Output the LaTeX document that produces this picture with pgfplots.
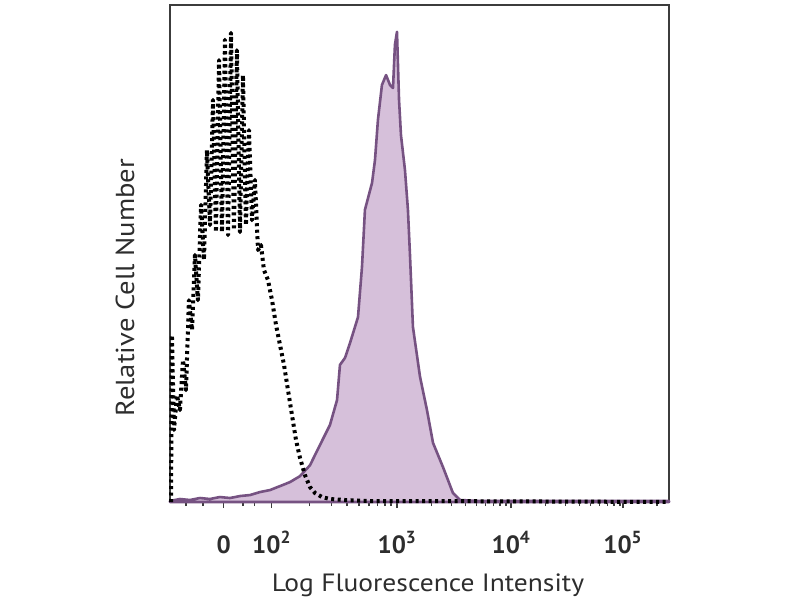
\documentclass[border=0pt]{standalone}
\usepackage{fontspec}
\setmainfont{PT Sans}
\newfontfamily\labfont[FakeStretch=1.1]{PT Sans}
\usepackage{pgfplots}
\pgfplotsset{compat=1.18}
\definecolor{axgray}{RGB}{60,60,60}
\definecolor{txtgray}{RGB}{45,45,45}
\definecolor{purpfill}{RGB}{214,192,218}
\definecolor{purpline}{RGB}{118,82,130}
\begin{document}
\begin{tikzpicture}[x=1pt,y=1pt]
\useasboundingbox (0,0) rectangle (800,600);
\begin{axis}[
  at={(170pt,98pt)}, anchor=south west,
  scale only axis, width=499pt, height=497pt,
  xmin=1.009, xmax=5.386, ymin=0, ymax=100,
  axis line style={axgray, line width=2.4pt},
  ytick=\empty,
  xtick={1.48,1.90,3,4,4.98},
  xticklabels={0,10\textsuperscript{2},10\textsuperscript{3},10\textsuperscript{4},10\textsuperscript{5}},
  minor xtick={1.15,1.30,1.65,1.75,2.231,2.425,2.562,2.669,2.756,2.830,2.893,2.950,3.301,3.477,3.602,3.699,3.778,3.845,3.903,3.954,4.301,4.477,4.602,4.699,4.778,4.845,4.903,4.954,5.28},
  tick align=outside,
  xtick pos=bottom,
  major tick length=6pt, minor tick length=4pt,
  every tick/.style={axgray, line width=1.6pt},
  xticklabel style={font=\fontsize{25}{28}\selectfont\bfseries, text=txtgray, anchor=base, yshift=-45pt},
  xlabel={Log Fluorescence Intensity},
  xlabel style={font=\labfont\fontsize{25}{28}\selectfont, text=txtgray, at={(axis description cs:0.517,0)}, anchor=base, yshift=-89pt},
  ylabel={Relative Cell Number},
  ylabel style={font=\labfont\fontsize{26}{28}\selectfont, text=txtgray, at={(axis description cs:-0.090,0.431)}, anchor=center},
  clip=false,
]
% purple filled histogram
\addplot[draw=purpline, line width=2.6pt, fill=purpfill, line join=round] coordinates {
(1.009,0.2)(1.096,0.6)(1.184,0.4)(1.272,0.8)(1.360,0.6)(1.447,1.0)(1.535,0.8)(1.623,1.2)(1.711,1.4)(1.798,2.0)(1.886,2.4)(1.974,3.2)(2.061,4.0)(2.149,5.2)(2.237,7.4)(2.325,11.5)(2.412,15.5)(2.474,20.5)(2.500,27.6)(2.544,29.0)(2.588,32.0)(2.658,37.2)(2.693,47.3)(2.719,58.8)(2.781,64.2)(2.807,68.8)(2.833,76.9)(2.868,83.9)(2.904,85.9)(2.939,83.9)(2.965,83.3)(2.982,92.0)(3.000,94.6)(3.018,80.9)(3.035,73.8)(3.070,66.8)(3.096,58.8)(3.114,49.7)(3.140,35.2)(3.202,25.2)(3.263,18.5)(3.316,11.9)(3.404,7.0)(3.491,1.8)(3.553,0.4)(3.728,0.2)(5.386,0.2)
} \closedcycle;
% black dotted histogram
\addplot[black, line width=4pt, dash pattern=on 3pt off 3.5pt, line join=round] coordinates {
(1.018,0)(1.026,33.6)(1.044,14.5)(1.070,21.5)(1.096,18.5)(1.123,28.6)(1.149,22.5)(1.175,40.6)(1.202,34.6)(1.228,49.7)(1.254,40.6)(1.281,59.8)(1.307,48.7)(1.333,70.8)(1.360,55.7)(1.386,80.9)(1.412,54.3)(1.439,88.9)(1.465,54.3)(1.491,93.0)(1.518,53.7)(1.544,94.4)(1.570,54.7)(1.596,90.9)(1.623,54.3)(1.649,85.9)(1.675,55.7)(1.702,74.8)(1.728,56.7)(1.754,64.8)(1.781,50.7)(1.807,51.7)(1.833,46.7)(1.868,44.7)(1.904,40.6)(1.939,35.6)(1.974,31.6)(2.009,27.6)(2.044,22.5)(2.079,17.5)(2.114,12.5)(2.149,8.9)(2.193,5.4)(2.237,3.0)(2.281,1.8)(2.342,1.0)(2.412,0.6)(2.544,0.4)(2.763,0.2)(3.202,0.2)(5.386,0)
};
\end{axis}
\end{tikzpicture}
\end{document}
